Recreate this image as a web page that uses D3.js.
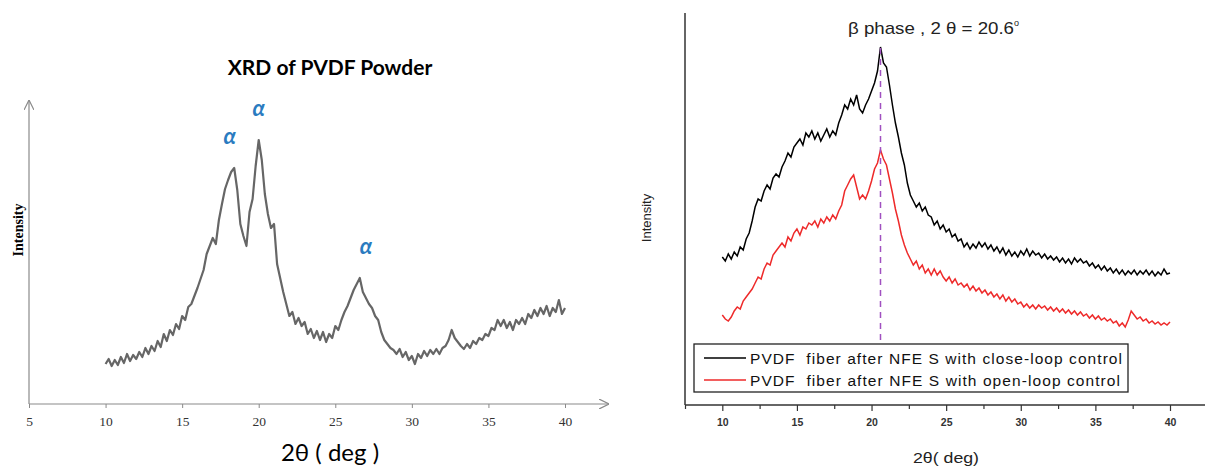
<!DOCTYPE html>
<html>
<head>
<meta charset="utf-8">
<script src="https://cdn.jsdelivr.net/npm/d3@7"></script>
<style>
body{margin:0;background:#fff;}
svg{display:block;}
</style>
</head>
<body>
<svg id="chart" width="1205" height="466"></svg>
<script>
// 2theta grid (deg), same for the three scans
let theta = [
    10,10.2,10.4,10.6,10.8,11,11.2,11.4,11.6,11.8,
    12,12.2,12.4,12.6,12.8,13,13.2,13.4,13.6,13.8,
    14,14.2,14.4,14.6,14.8,15,15.2,15.4,15.6,15.8,
    16,16.2,16.4,16.6,16.8,17,17.2,17.4,17.6,17.8,
    18,18.2,18.4,18.6,18.8,19,19.2,19.4,19.6,19.8,
    20,20.2,20.4,20.6,20.8,21,21.2,21.4,21.6,21.8,
    22,22.2,22.4,22.6,22.8,23,23.2,23.4,23.6,23.8,
    24,24.2,24.4,24.6,24.8,25,25.2,25.4,25.6,25.8,
    26,26.2,26.4,26.6,26.8,27,27.2,27.4,27.6,27.8,
    28,28.2,28.4,28.6,28.8,29,29.2,29.4,29.6,29.8,
    30,30.2,30.4,30.6,30.8,31,31.2,31.4,31.6,31.8,
    32,32.2,32.4,32.6,32.8,33,33.2,33.4,33.6,33.8,
    34,34.2,34.4,34.6,34.8,35,35.2,35.4,35.6,35.8,
    36,36.2,36.4,36.6,36.8,37,37.2,37.4,37.6,37.8,
    38,38.2,38.4,38.6,38.8,39,39.2,39.4,39.6,39.8,
    40
];

// PVDF powder (a.u.)
let powderIntensity = [
    40,45,38,44,39,47,41,50,43,49,
    45,52,47,56,50,58,53,63,57,70,
    63,74,69,80,75,88,84,97,100,108,
    116,125,134,150,158,166,160,184,200,215,
    224,232,236,214,180,168,158,192,205,238,
    264,244,210,190,176,180,140,126,112,100,
    88,92,80,86,78,82,70,75,66,73,
    64,72,62,70,66,78,74,84,92,98,
    106,114,120,126,112,106,100,96,88,84,
    72,64,60,56,54,50,55,47,52,44,
    48,40,50,46,53,48,54,50,55,50,
    56,58,64,74,66,62,58,55,60,56,
    63,60,66,64,70,68,76,74,84,78,
    84,76,82,74,84,80,86,80,90,86,
    94,88,96,90,98,88,96,92,104,90,
    96
];

// fiber, close-loop control (a.u.)
let closeLoopIntensity = [
    148,144,151,146,153,149,158,155,166,172,
    184,198,206,204,214,220,216,227,231,228,
    238,244,252,248,258,262,266,260,272,268,
    274,266,272,264,270,276,268,274,270,282,
    290,300,296,306,300,310,296,292,300,306,
    314,322,334,358,342,338,320,300,282,268,
    252,240,222,210,204,198,202,194,198,190,
    188,180,184,176,180,173,176,168,171,164,
    166,158,162,156,161,157,163,158,162,156,
    160,154,158,152,157,150,155,149,153,148,
    154,150,156,149,154,150,152,147,151,146,
    149,145,148,143,147,142,146,141,147,143,
    146,142,144,139,142,137,140,135,139,134,
    137,132,136,131,135,130,134,131,135,130,
    134,131,135,130,134,129,133,130,136,131,
    132
];

// fiber, open-loop control (a.u.)
let openLoopIntensity = [
    90,86,84,88,94,98,96,104,108,112,
    116,122,128,126,136,142,140,150,154,158,
    162,158,168,164,172,176,170,178,176,182,
    180,184,178,186,182,188,184,190,186,194,
    200,214,220,226,230,218,206,210,206,214,
    224,236,242,255,246,240,226,212,196,184,
    170,160,152,146,140,144,136,140,132,136,
    130,136,130,134,128,124,128,122,126,120,
    122,118,121,115,119,114,117,112,115,110,
    113,108,111,106,110,104,108,103,106,101,
    103,98,101,97,100,96,100,97,99,95,
    98,94,97,93,96,92,95,91,94,90,
    93,89,91,87,90,86,89,85,87,84,
    86,82,84,79,82,78,85,94,90,86,
    88,84,86,82,84,81,83,80,82,80,
    83
];

let powderTicks = [5, 10, 15, 20, 25, 30, 35, 40];
let fiberTicks = [10, 15, 20, 25, 30, 35, 40];
let fiberMinorTicks = [7.5, 12.5, 17.5, 22.5, 27.5, 32.5, 37.5];

let alphaTheta = [18.1, 20.0, 27.0];
let alphaLevel = [236, 264, 126];
let betaTheta = 20.6;

let legendLabels = ["PVDF  fiber after NFE S with close-loop control",
                    "PVDF  fiber after NFE S with open-loop control"];
let legendColors = ["#000000", "#ee2a2a"];

let svg = d3.select("#chart");

let defs = svg.append("defs");
defs.append("marker")
    .attr("id", "arrow")
    .attr("viewBox", "0 0 10 10")
    .attr("refX", 10).attr("refY", 5)
    .attr("markerWidth", 10).attr("markerHeight", 10)
    .attr("markerUnits", "userSpaceOnUse")
    .attr("orient", "auto")
    .append("path")
    .attr("d", "M0,0 L10,5 L0,10")
    .attr("fill", "none")
    .attr("stroke", "#8a8a8a")
    .attr("stroke-width", 1.2);

drawPowder();
drawFiber();

function drawPowder(){
    let x = d3.scaleLinear().domain([5, 40]).range([29, 565]);
    let y = d3.scaleLinear().domain([0, 300]).range([404, 104]);
    let g = svg.append("g");

    g.append("text")
        .attr("x", 330).attr("y", 75)
        .attr("text-anchor", "middle")
        .style("font-family", "Lato, 'Open Sans', sans-serif")
        .style("font-weight", "bold")
        .style("font-size", "21px")
        .text("XRD of PVDF Powder");

    // axes with open arrow heads
    g.append("line")
        .attr("x1", 29).attr("x2", 29)
        .attr("y1", 404).attr("y2", 100)
        .attr("stroke", "#8a8a8a").attr("stroke-width", 1.2)
        .attr("marker-end", "url(#arrow)");
    g.append("line")
        .attr("x1", 29).attr("x2", 609)
        .attr("y1", 404).attr("y2", 404)
        .attr("stroke", "#8a8a8a").attr("stroke-width", 1.2)
        .attr("marker-end", "url(#arrow)");

    let ax = g.append("g")
        .attr("transform", "translate(0,404)")
        .call(d3.axisBottom(x).tickValues(powderTicks).tickSize(4).tickPadding(8));
    ax.select(".domain").remove();
    ax.selectAll("line").attr("stroke", "#8a8a8a");
    ax.selectAll("text")
        .attr("fill", "#333")
        .style("font-family", "'Liberation Serif', 'Times New Roman', serif")
        .style("font-size", "13.5px");

    g.append("text")
        .attr("x", 330).attr("y", 461)
        .attr("text-anchor", "middle")
        .style("font-family", "Lato, 'Open Sans', sans-serif")
        .style("font-size", "24px")
        .text("2θ ( deg )");

    g.append("text")
        .attr("transform", "translate(23,230) rotate(-90)")
        .attr("text-anchor", "middle")
        .style("font-family", "'Liberation Serif', 'Times New Roman', serif")
        .style("font-weight", "bold")
        .style("font-size", "14px")
        .text("Intensity");

    let line = d3.line()
        .x((d, i) => x(theta[i]))
        .y(d => y(d));
    g.append("path")
        .datum(powderIntensity)
        .attr("d", line)
        .attr("fill", "none")
        .attr("stroke", "#666")
        .attr("stroke-width", 2.2)
        .attr("stroke-linejoin", "round");

    g.selectAll(".alpha")
        .data(alphaTheta)
        .enter().append("text")
        .attr("class", "alpha")
        .attr("x", d => x(d))
        .attr("y", (d, i) => y(alphaLevel[i]) - 24)
        .attr("text-anchor", "middle")
        .attr("fill", "#2a7bc0")
        .style("font-family", "Lato, 'Open Sans', sans-serif")
        .style("font-weight", "bold")
        .style("font-style", "italic")
        .style("font-size", "22px")
        .text("α");
}

function drawFiber(){
    let x = d3.scaleLinear().domain([7.5, 40]).range([685, 1170]);
    let y = d3.scaleLinear().domain([0, 391]).range([405, 14]);
    let g = svg.append("g");

    g.append("line")
        .attr("x1", 685).attr("x2", 685)
        .attr("y1", 405).attr("y2", 13)
        .attr("stroke", "#333").attr("stroke-width", 1.5);
    g.append("line")
        .attr("x1", 685).attr("x2", 1205)
        .attr("y1", 405).attr("y2", 405)
        .attr("stroke", "#333").attr("stroke-width", 1.5);

    let ax = g.append("g")
        .attr("transform", "translate(0,405)")
        .call(d3.axisBottom(x).tickValues(fiberTicks).tickSize(6).tickPadding(8));
    ax.select(".domain").remove();
    ax.selectAll("line").attr("stroke", "#333").attr("stroke-width", 1.2);
    ax.selectAll("text")
        .attr("fill", "#333")
        .style("font-family", "'Liberation Sans', Arial, sans-serif")
        .style("font-weight", "bold")
        .style("font-size", "10.5px");

    let minor = g.append("g")
        .attr("transform", "translate(0,405)")
        .call(d3.axisBottom(x).tickValues(fiberMinorTicks).tickSize(4).tickFormat(""));
    minor.select(".domain").remove();
    minor.selectAll("line").attr("stroke", "#333").attr("stroke-width", 1.2);

    g.append("text")
        .attr("x", 946).attr("y", 463)
        .attr("text-anchor", "middle")
        .attr("textLength", 66)
        .attr("lengthAdjust", "spacingAndGlyphs")
        .style("font-family", "'Liberation Sans', Arial, sans-serif")
        .style("font-size", "15px")
        .attr("fill", "#222")
        .text("2θ( deg)");

    g.append("text")
        .attr("transform", "translate(651,218) rotate(-90)")
        .attr("text-anchor", "middle")
        .style("font-family", "'Liberation Sans', Arial, sans-serif")
        .style("font-size", "13px")
        .attr("fill", "#222")
        .text("Intensity");

    let line = d3.line()
        .x((d, i) => x(theta[i]))
        .y(d => y(d));

    g.append("path")
        .datum(openLoopIntensity)
        .attr("d", line)
        .attr("fill", "none")
        .attr("stroke", legendColors[1])
        .attr("stroke-width", 1.5);
    g.append("path")
        .datum(closeLoopIntensity)
        .attr("d", line)
        .attr("fill", "none")
        .attr("stroke", legendColors[0])
        .attr("stroke-width", 1.5);

    // beta phase marker
    g.append("line")
        .attr("x1", x(betaTheta)).attr("x2", x(betaTheta))
        .attr("y1", 48).attr("y2", 344)
        .attr("stroke", "#a050c0")
        .attr("stroke-width", 1.5)
        .attr("stroke-dasharray", "6,5");

    let t = g.append("text")
        .attr("x", 848).attr("y", 34)
        .style("font-family", "'Liberation Sans', Arial, sans-serif")
        .style("font-size", "17px")
        .attr("fill", "#222");
    t.append("tspan")
        .attr("textLength", 166)
        .attr("lengthAdjust", "spacingAndGlyphs")
        .text("β phase , 2 θ = " + betaTheta);
    t.append("tspan").attr("dy", -8).style("font-size", "9px").text("o");

    // legend
    let lg = g.append("g");
    lg.append("rect")
        .attr("x", 694).attr("y", 344)
        .attr("width", 434).attr("height", 48)
        .attr("fill", "#fff")
        .attr("stroke", "#222").attr("stroke-width", 1.3);
    legendLabels.forEach((lab, i) => {
        let ly = 358 + i * 22;
        lg.append("line")
            .attr("x1", 704).attr("x2", 746)
            .attr("y1", ly).attr("y2", ly)
            .attr("stroke", legendColors[i]).attr("stroke-width", 1.3);
        lg.append("text")
            .attr("x", 750).attr("y", ly + 5.5)
            .attr("xml:space", "preserve")
            .attr("textLength", i == 0 ? 372 : 370)
            .attr("lengthAdjust", "spacing")
            .style("white-space", "pre")
            .style("font-family", "'Liberation Sans', Arial, sans-serif")
            .style("font-size", "15.5px")
            .attr("fill", "#111")
            .text(lab);
    });
}
</script>
</body>
</html>
